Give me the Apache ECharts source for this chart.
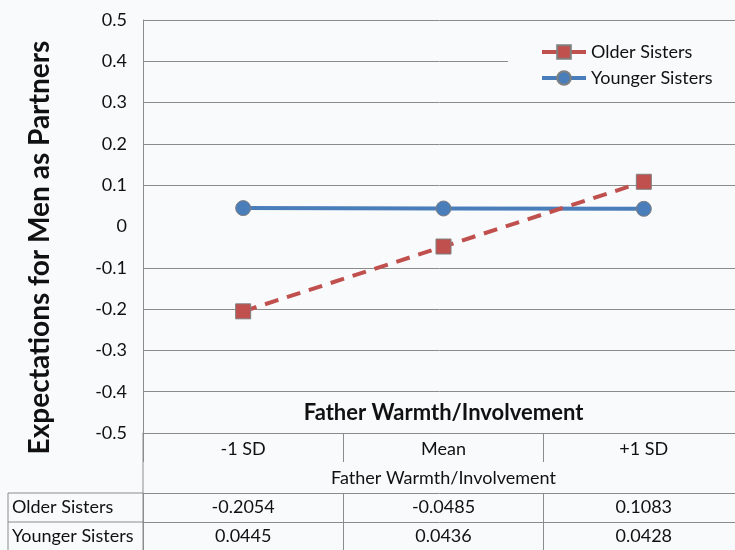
<!DOCTYPE html>
<html>
<head>
<meta charset="utf-8">
<script src="https://cdn.jsdelivr.net/npm/echarts@6/dist/echarts.min.js"></script>
<style>
html,body{margin:0;padding:0;background:#f9fafc;}
#c{width:735px;height:550px;}
</style>
</head>
<body>
<div id="c"></div>
<script>
var categories = ['-1 SD', 'Mean', '+1 SD'];
var seriesNames = ['Older Sisters', 'Younger Sisters'];
var olderSisters = [-0.2054, -0.0485, 0.1083];
var youngerSisters = [0.0445, 0.0436, 0.0428];
var yTicks = [-0.5, -0.4, -0.3, -0.2, -0.1, 0, 0.1, 0.2, 0.3, 0.4, 0.5];
var xTitle = 'Father Warmth/Involvement';
var yTitle = 'Expectations for Men as Partners';

var FONT = 'Lato';
var BG = '#f9fafc';
var GRID = '#8c8c8c';
var RED = '#c0504d';
var BLUE = '#4a7ebb';
var TXT = '#111';

var chart = echarts.init(document.getElementById('c'), null, {renderer: 'canvas'});

var splitColors = yTicks.map(function (t) { return t === 0 ? 'rgba(0,0,0,0)' : GRID; });

function fmtY(v) {
  var r = Math.round(v * 10) / 10;
  return r === 0 ? '0' : String(r);
}

var tableAxis = function (offset, values) {
  return {
    type: 'category', data: categories, position: 'bottom', offset: offset,
    boundaryGap: true,
    axisLine: {show: true, onZero: false, lineStyle: {color: GRID, width: 1}},
    axisTick: {show: true, length: 29, interval: 0, lineStyle: {color: GRID, width: 1}},
    axisLabel: {margin: 5, fontSize: 18, fontFamily: FONT, color: TXT, interval: 0,
      formatter: function (v, i) { return values[i].toFixed(4); }},
    splitLine: {show: false}
  };
};

chart.setOption({
  animation: false,
  backgroundColor: BG,
  grid: {left: 143, top: 20, width: 601, height: 413, containLabel: false, outerBoundsMode: 'none'},
  legend: {
    orient: 'vertical', left: 508, top: 35,
    backgroundColor: BG,
    padding: [8, 30, 10, 32],
    itemWidth: 44, itemHeight: 17, itemGap: 8,
    textStyle: {fontSize: 18, fontFamily: FONT, color: TXT},
    lineStyle: {width: 4, type: 'solid'},
    data: seriesNames
  },
  xAxis: [
    {
      type: 'category', data: categories, position: 'bottom', boundaryGap: true,
      axisLine: {show: true, onZero: false, lineStyle: {color: GRID, width: 1}},
      axisTick: {show: true, length: 29, interval: 0, lineStyle: {color: GRID, width: 1}},
      axisLabel: {margin: 7, fontSize: 18, fontFamily: FONT, color: TXT, interval: 0},
      name: xTitle, nameLocation: 'middle', nameGap: 36,
      nameTextStyle: {fontSize: 18, fontFamily: FONT, color: TXT},
      splitLine: {show: false}
    },
    tableAxis(60, olderSisters),
    tableAxis(89, youngerSisters)
  ],
  yAxis: {
    type: 'value', min: -0.5, max: 0.5, interval: 0.1,
    axisLine: {show: true, lineStyle: {color: GRID, width: 1}},
    axisTick: {show: false},
    axisLabel: {margin: 16, fontSize: 18, fontFamily: FONT, color: TXT, formatter: fmtY},
    splitLine: {show: true, lineStyle: {color: splitColors, width: 1}}
  },
  series: [
    {
      name: seriesNames[0], type: 'line', data: olderSisters,
      symbol: 'rect', symbolSize: 15,
      lineStyle: {color: RED, width: 4, type: [14, 9]},
      itemStyle: {color: RED, borderColor: '#7f7f7f', borderWidth: 1},
      z: 3
    },
    {
      name: seriesNames[1], type: 'line', data: youngerSisters,
      symbol: 'circle', symbolSize: 15,
      lineStyle: {color: BLUE, width: 4},
      itemStyle: {color: BLUE, borderColor: '#7f7f7f', borderWidth: 1},
      z: 2
    }
  ]
});

// Table frame and labels positioned from the chart's own scales
var x0 = chart.convertToPixel({xAxisIndex: 0}, categories[0]);
var x2 = chart.convertToPixel({xAxisIndex: 0}, categories[2]);
var band = (x2 - x0) / 2;
var leftEdge = x0 - band / 2;
var midX = chart.convertToPixel({xAxisIndex: 0}, categories[1]);
var yBottom = chart.convertToPixel({yAxisIndex: 0}, -0.5);
var yTitleRow = chart.convertToPixel({yAxisIndex: 0}, -0.4);
var yTop = chart.convertToPixel({yAxisIndex: 0}, 0.5);
var row1 = yBottom + 60, row2 = yBottom + 89, row3 = yBottom + 118;

chart.setOption({
  graphic: [
    {type: 'line', shape: {x1: leftEdge, y1: yBottom, x2: leftEdge, y2: row3}, style: {stroke: GRID, lineWidth: 1}, silent: true},
    {type: 'line', shape: {x1: 8, y1: row1, x2: leftEdge, y2: row1}, style: {stroke: GRID, lineWidth: 1}, silent: true},
    {type: 'line', shape: {x1: 8, y1: row2, x2: leftEdge, y2: row2}, style: {stroke: GRID, lineWidth: 1}, silent: true},
    {type: 'line', shape: {x1: 8, y1: row1, x2: 8, y2: row3}, style: {stroke: GRID, lineWidth: 1}, silent: true},
    {type: 'text', x: 12, y: (row1 + row2) / 2, style: {text: seriesNames[0], fontSize: 18, fontFamily: FONT, fill: TXT, verticalAlign: 'middle', textAlign: 'left'}},
    {type: 'text', x: 12, y: (row2 + row3) / 2, style: {text: seriesNames[1], fontSize: 18, fontFamily: FONT, fill: TXT, verticalAlign: 'middle', textAlign: 'left'}},
    {type: 'text', x: midX, y: (yTitleRow + yBottom) / 2 + 1, z: 10,
      style: {text: xTitle, fontSize: 22, fontWeight: 'bold', fontFamily: FONT, fill: TXT,
        textAlign: 'center', verticalAlign: 'middle', backgroundColor: BG, padding: [2, 14, 2, 14]}},
    {type: 'text', x: 40, y: (yTop + yBottom) / 2 + 21, rotation: Math.PI / 2,
      style: {text: yTitle, fontSize: 28, fontWeight: 'bold', fontFamily: FONT, fill: TXT,
        textAlign: 'center', verticalAlign: 'middle'}}
  ]
});
</script>
</body>
</html>
